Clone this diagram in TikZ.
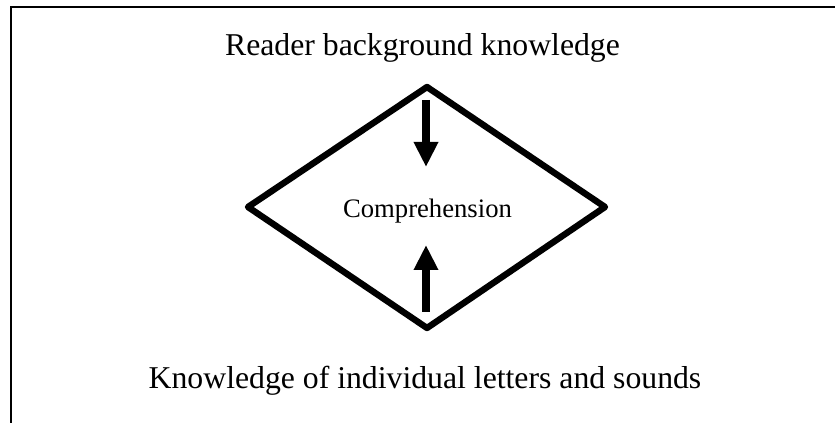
\documentclass[tikz,border=0pt]{standalone}
\usepackage{fontspec}
\setmainfont{Liberation Serif}
\usetikzlibrary{arrows.meta}

\tikzset{
  lbl/.style={anchor=base,inner sep=0pt,font=\fontsize{23.8pt}{28pt}\selectfont},
  smalllbl/.style={anchor=base,inner sep=0pt,font=\fontsize{20pt}{24pt}\selectfont},
  flow/.style={line width=5.4pt,-{Triangle[width=17.25pt,length=18.75pt]}}
}

\begin{document}
\begin{tikzpicture}[x=0.75pt,y=-0.75pt]
\useasboundingbox (0,0) rectangle (835,423);
\draw [line width=1.5pt] (11,423) -- (11,7.5) -- (835,7.5) ;
\draw [line width=4.8pt,line join=round] (427,87) -- (605,207) -- (427,328) -- (248,207) -- cycle ;
\coordinate (dntop) at (426,100);
\coordinate (dnend) at (426,167);
\coordinate (uptop) at (426,312);
\coordinate (upend) at (426,245);
\draw [flow] (dntop) -- (dnend) ;
\draw [flow] (uptop) -- (upend) ;
\node (rbk) at (422.5,56) [lbl] {Reader background knowledge};
\node (comp) at (427.5,218) [smalllbl] {Comprehension};
\node (kils) at (425,389) [lbl] {Knowledge of individual letters and sounds};
\end{tikzpicture}
\end{document}
